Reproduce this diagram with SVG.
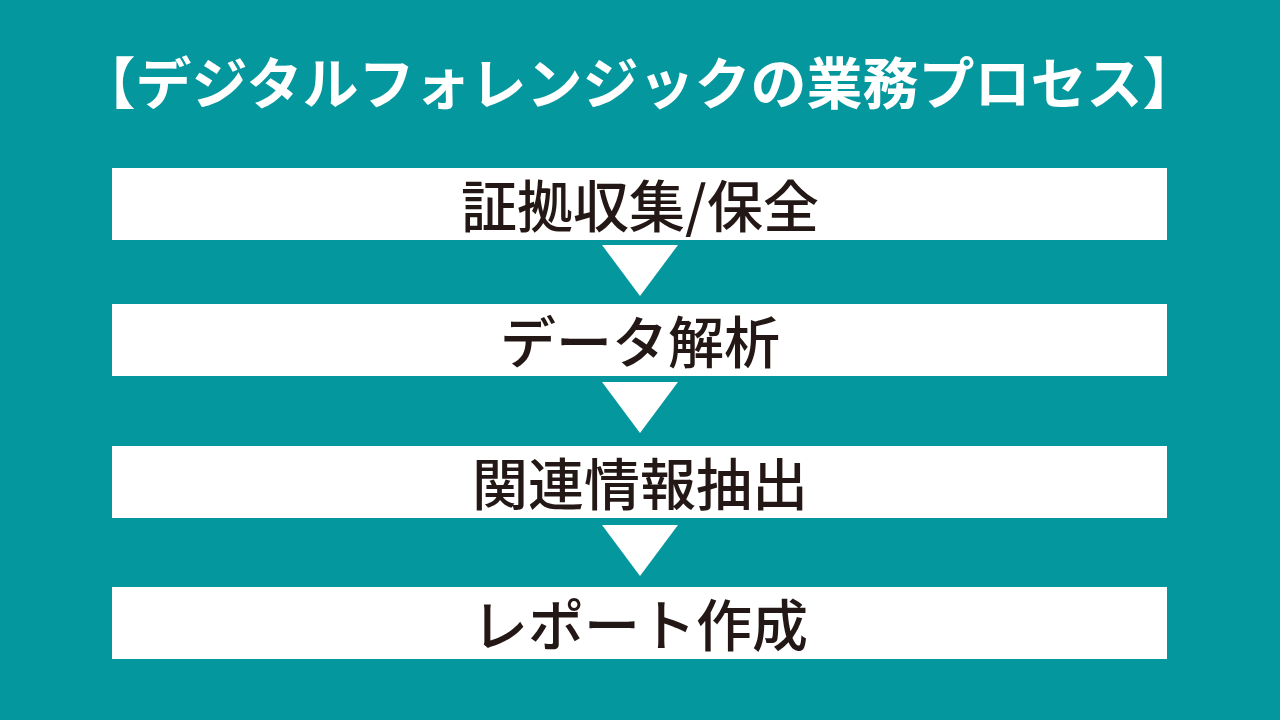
<svg xmlns="http://www.w3.org/2000/svg" width="1280" height="720" viewBox="0 0 1280 720">
<style>
.bg{fill:#05979e}
.box{fill:#ffffff}
.lbl{font-family:"Noto Sans CJK JP","Noto Sans",sans-serif;font-size:56px;font-weight:500;fill:#231815;text-anchor:middle;dominant-baseline:central}
.title{font-family:"Noto Sans CJK JP","Noto Sans",sans-serif;font-size:56px;font-weight:bold;fill:#ffffff;text-anchor:middle;dominant-baseline:central}
.arr{fill:#ffffff}
</style>
<rect class="bg" x="0" y="0" width="1280" height="720"/>
<text class="title" x="639" y="79">【デジタルフォレンジックの業務プロセス】</text>
<g id="node1"><rect class="box" x="112" y="168" width="1055" height="72"/><text class="lbl" x="640" y="202">証拠収集/保全</text></g>
<g id="node2"><rect class="box" x="112" y="304" width="1055" height="72"/><text class="lbl" x="640" y="338">データ解析</text></g>
<g id="node3"><rect class="box" x="112" y="446" width="1055" height="72"/><text class="lbl" x="640" y="480">関連情報抽出</text></g>
<g id="node4"><rect class="box" x="112" y="587" width="1055" height="72"/><text class="lbl" x="640" y="621">レポート作成</text></g>
<g id="connectors">
<polygon class="arr" points="602,245 678,245 640,296"/>
<polygon class="arr" points="602,382 678,382 640,433"/>
<polygon class="arr" points="602,525 678,525 640,576"/>
</g>
</svg>
